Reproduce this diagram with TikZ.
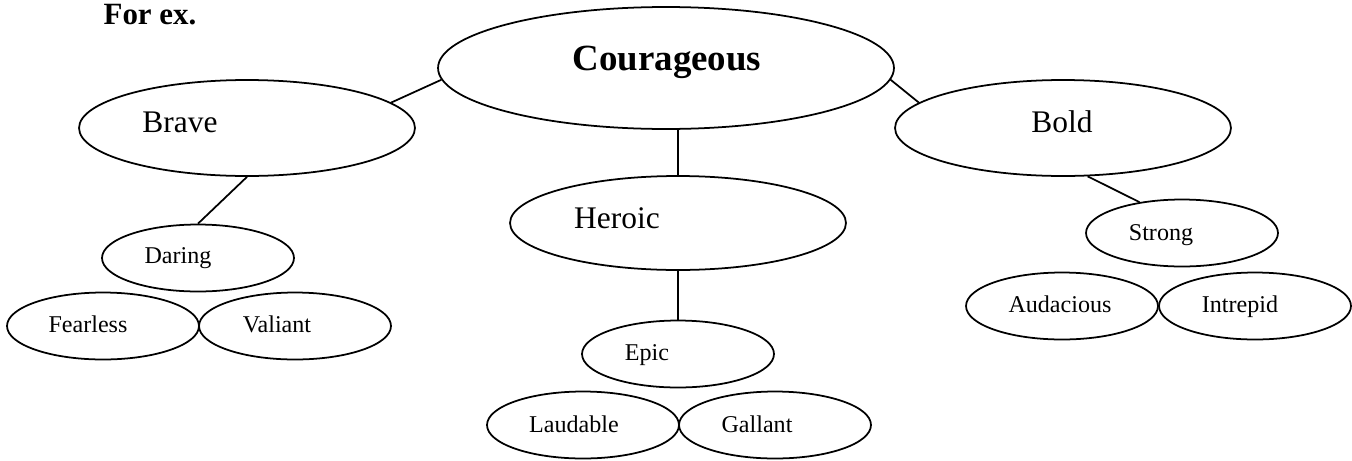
\documentclass[tikz,border=0pt]{standalone}
\usepackage{fontspec}
\setmainfont{Liberation Serif}
\usetikzlibrary{shapes.geometric}

\begin{document}
\begin{tikzpicture}[
  x=0.02cm, y=-0.02cm,
  line width=1pt,
  oval/.style={ellipse,draw,inner sep=0pt},
  bigoval/.style={oval,minimum width=6.72cm,minimum height=1.92cm},
  smalloval/.style={oval,minimum width=3.84cm,minimum height=1.34cm},
  word/.style={anchor=base,inner sep=0pt,font=\fontsize{13.7}{16}\selectfont},
  bigword/.style={word,font=\fontsize{17.9}{21}\selectfont},
]
\useasboundingbox (0,0) rectangle (1352,460);

\node[word,font=\fontsize{17.6}{22}\bfseries] (forex) at (150,24) {For ex.};

% top row
\node[oval,minimum width=9.12cm,minimum height=2.44cm] (courageous) at (666,68) {};
\node[bigoval] (brave) at (247,128) {};
\node[bigoval] (bold) at (1063,128) {};
\node[bigoval,minimum height=1.88cm] (heroic) at (678,223) {};

% small ones
\node[smalloval] (daring) at (198,258) {};
\node[smalloval] (fearless) at (103,326) {};
\node[smalloval] (valiant) at (295,326) {};
\node[smalloval] (strong) at (1182,233) {};
\node[smalloval] (audacious) at (1062,306) {};
\node[smalloval] (intrepid) at (1255,306) {};
\node[smalloval] (epic) at (678,354) {};
\node[smalloval] (laudable) at (583,425) {};
\node[smalloval] (gallant) at (775,425) {};

% words
\node[word,font=\fontsize{21}{25}\bfseries] (courageous-t) at (667,70) {Courageous};
\node[bigword] (brave-t) at (180,132) {Brave};
\node[bigword] (bold-t) at (1062,132) {Bold};
\node[bigword] (heroic-t) at (617,228) {Heroic};
\node[word] (daring-t) at (178,263) {Daring};
\node[word] (fearless-t) at (88,332) {Fearless};
\node[word] (valiant-t) at (277,332) {Valiant};
\node[word] (strong-t) at (1161,240) {Strong};
\node[word] (audacious-t) at (1060,312) {Audacious};
\node[word] (intrepid-t) at (1240,312) {Intrepid};
\node[word] (epic-t) at (647,360) {Epic};
\node[word] (laudable-t) at (574,432) {Laudable};
\node[word] (gallant-t) at (757,432) {Gallant};

% links
\draw (brave.10) -- (courageous.183);
\draw (courageous.-3) -- (bold.170);
\draw (heroic.north) -- (heroic.north |- courageous.south);
\draw (brave.south) -- (daring.north);
\draw (bold.-63) -- (strong.144);
\draw (heroic.south) -- (epic.north);
\end{tikzpicture}
\end{document}
